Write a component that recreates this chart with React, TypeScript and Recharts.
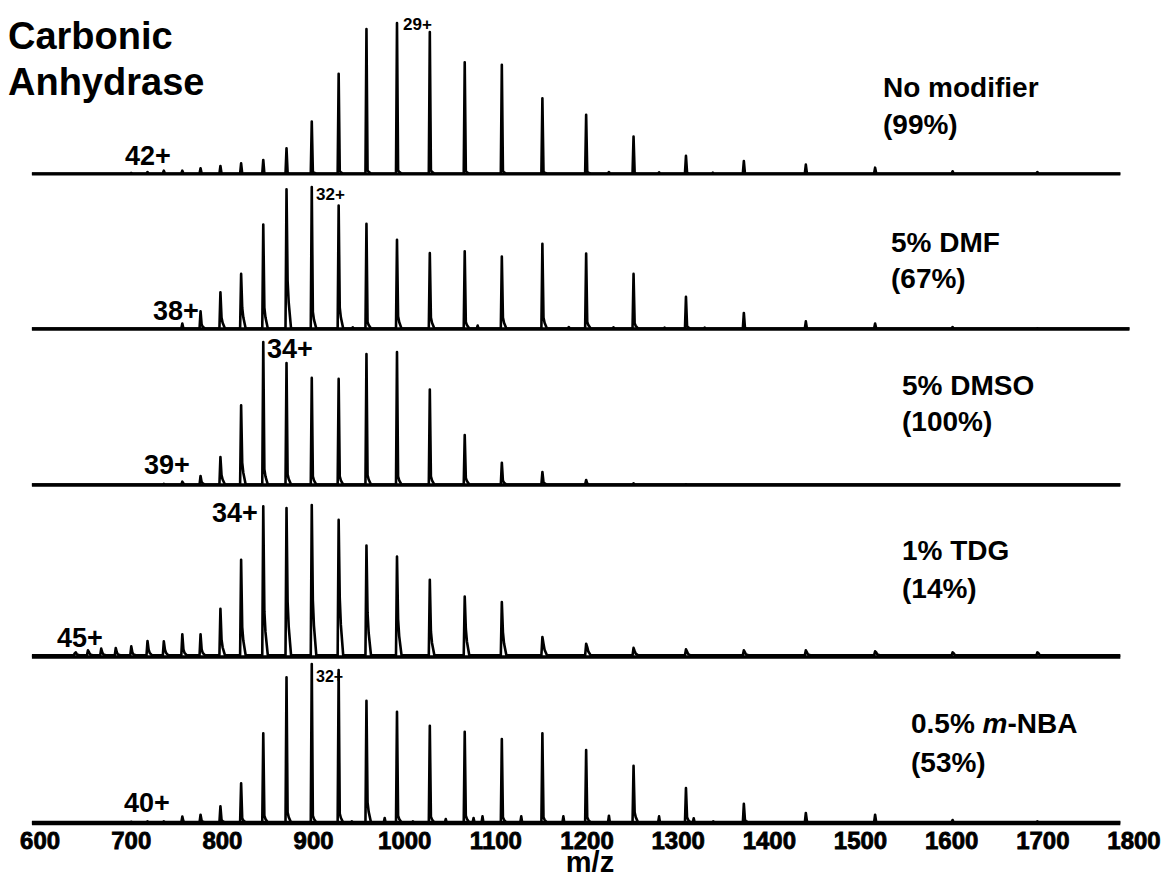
import { LineChart, Line, XAxis, YAxis, ReferenceLine } from "recharts"

// charge states and the m/z where each one sits
const charges = [45, 44, 43, 42, 41, 40, 39, 38, 37, 36, 35, 34, 33, 32, 31, 30, 29, 28, 27, 26, 25, 24, 23, 22, 21, 20, 19, 18, 17]
const peakMz = [638, 652.5, 667, 683, 700, 717.8, 735.7, 756, 776, 797.8, 820.5, 844.8, 870.3, 898, 927.5, 958, 991.5, 1027.5, 1065.8, 1106.5, 1151, 1199, 1251, 1308.5, 1372, 1440, 1516, 1601, 1694]

// relative intensities (%), one per charge state
const noModifier = [0, 0, 0, 0, 0.7, 1.3, 2.2, 2.2, 3.8, 5.3, 7.1, 9.3, 17, 34.7, 66.4, 96, 100, 94, 74, 72.3, 50.2, 39.2, 24.8, 12, 8.6, 6.2, 4.2, 1.8, 1.3]
const noModifierShoulder = [0, 0, 0, 0, 0, 0, 0, 0, 0, 0, 0, 0, 1, 1.5, 2, 2.5, 2.5, 2.5, 2, 2, 1.5, 1.5, 1, 1, 0, 0, 0, 0, 0]
const noModifierMinor: [number, number][] = [[1224, 1.3], [1279, 1.1], [1338, 0.9]]

const dmf = [0, 0, 0, 0, 0, 0, 0, 3.8, 12.5, 25.9, 38.8, 73.6, 98.4, 100, 87, 74.1, 62.8, 53.4, 54.8, 51, 60, 53.2, 38.8, 22.6, 11.3, 5.4, 3.8, 1.4, 0.5]
const dmfShoulder = [0, 0, 0, 0, 0, 0, 0, 0, 3, 8, 15, 15, 34, 12, 15, 5, 9, 8, 5, 8, 8, 5, 4, 2, 1, 0, 0, 0, 0]
const dmfMinor: [number, number][] = [[943, 1.2], [1080, 2.4], [1180, 1.4], [1229, 1.2], [1285, 1], [1329, 1]]

const dmso = [0, 0, 0, 0, 0, 0, 0.8, 2.3, 6.3, 19.5, 55.8, 100, 85.3, 74.9, 74.2, 91.6, 93, 66.7, 34.9, 15.6, 9.1, 3.5, 1.2, 0.5, 0, 0, 0, 0, 0]
const dmsoShoulder = [0, 0, 0, 0, 0, 0, 0, 1, 2, 7, 15.6, 11, 7.5, 6, 6, 7, 6, 6, 5, 3, 2, 1, 0, 0, 0, 0, 0, 0, 0]
const dmsoMinor: [number, number][] = []

const tdg = [2.5, 4.4, 5.5, 5.9, 7, 10.5, 10.3, 14.9, 14.9, 31.7, 63.9, 99.1, 98, 100, 90.2, 73.3, 66.1, 50.8, 39.8, 36.1, 13.1, 8.7, 6, 5, 4.4, 4.4, 3.7, 3, 3]
const tdgShoulder = [3, 3, 3, 3, 3, 5, 5, 5, 5, 11.6, 19.7, 30, 36.5, 37.2, 38.7, 29, 25, 16.8, 18.6, 16.4, 8.8, 6.5, 4, 3.5, 3, 3, 3, 2.5, 2.5]
const tdgMinor: [number, number][] = []

const mNba = [0, 0, 0, 0, 0.8, 1, 1, 4, 5.2, 10.5, 25, 56.4, 91.6, 100, 96.2, 76.9, 70, 61.2, 57.4, 52.8, 56.4, 45.9, 36, 22, 12, 6.3, 5.2, 1.9, 1]
const mNbaShoulder = [0, 0, 0, 0, 0, 0, 0, 1, 1.5, 2, 3, 4.6, 6.7, 4.6, 6, 13, 4.6, 4, 4.6, 3.6, 3.6, 3.6, 6.7, 3.6, 2, 1, 0, 0, 0]
const mNbaMinor: [number, number][] = [[942, 1], [978, 3.1], [1009, 1], [1045, 2.5], [1075.5, 3.1], [1085.3, 4.2], [1127.8, 4.2], [1174, 4.2], [1224, 4.6], [1279, 4.2], [1317, 3], [1338.5, 1]]

const mzTicks = [600, 700, 800, 900, 1000, 1100, 1200, 1300, 1400, 1500, 1600, 1700, 1800]

const FONT = "'Liberation Sans', Arial, Helvetica, sans-serif"

type Pt = { mz: number; v: number }

function buildSpectrum(heights: number[], shoulders: number[], minor: [number, number][], floor: number, end: number): Pt[] {
  const pts: Pt[] = [{ mz: 591, v: floor }]
  peakMz.forEach((mz, i) => {
    const h = heights[i]
    if (!h) return
    const s = shoulders[i] || 0
    pts.push({ mz: mz - 1.1, v: floor }, { mz, v: h })
    if (s > floor) {
      pts.push({ mz: mz + 1.2, v: s }, { mz: mz + 2.4, v: Math.max(floor, s * 0.55) })
    }
    pts.push({ mz: mz + (s > floor ? 5 : 1.2), v: floor })
  })
  minor.forEach(([mz, h]) => {
    pts.push({ mz: mz - 1, v: floor }, { mz, v: h }, { mz: mz + 1, v: floor })
  })
  pts.push({ mz: end, v: floor })
  return pts.sort((a, b) => a.mz - b.mz)
}

const panels = [
  { key: "none", data: buildSpectrum(noModifier, noModifierShoulder, noModifierMinor, 0.3, 1785), baseline: 174, maxPx: 151, end: 1785, lineW: 3 },
  { key: "dmf", data: buildSpectrum(dmf, dmfShoulder, dmfMinor, 0.3, 1795), baseline: 329, maxPx: 142, end: 1795, lineW: 3.5 },
  { key: "dmso", data: buildSpectrum(dmso, dmsoShoulder, dmsoMinor, 0.3, 1785), baseline: 485, maxPx: 143, end: 1785, lineW: 3.5 },
  { key: "tdg", data: buildSpectrum(tdg, tdgShoulder, tdgMinor, 1.1, 1785), baseline: 657, maxPx: 152, end: 1785, lineW: 3.5 },
  { key: "mnba", data: buildSpectrum(mNba, mNbaShoulder, mNbaMinor, 0.3, 1785), baseline: 822.5, maxPx: 159, end: 1785, lineW: 4.5 },
]

const PAD = 10

const renderTick = (props: any) => {
  const { x, y, payload } = props
  return (
    <text
      key={payload.value}
      x={x}
      y={y + 26}
      textAnchor="middle"
      fontSize={24}
      fontWeight="bold"
      fontFamily={FONT}
      fill="#000"
      stroke="#000"
      strokeWidth={0.8}
    >
      {payload.value}
    </text>
  )
}

export default function App() {
  return (
    <div style={{ position: "absolute", left: 0, top: 0, width: 1164, height: 873, background: "#fff", fontFamily: FONT }}>
      {panels.map((p, idx) => {
        const last = idx === panels.length - 1
        const bottom = last ? 50 : 6
        return (
          <div key={p.key} style={{ position: "absolute", left: 0, top: p.baseline - p.maxPx - PAD }}>
            <LineChart
              width={1164}
              height={PAD + p.maxPx + bottom}
              data={p.data}
              margin={{ top: PAD, right: 30, left: 31, bottom: last ? 0 : bottom }}
            >
              <XAxis
                type="number"
                dataKey="mz"
                domain={[590, 1800]}
                ticks={mzTicks}
                hide={!last}
                height={50}
                axisLine={false}
                tickLine={false}
                tickSize={0}
                tickMargin={0}
                tick={renderTick}
                interval={0}
              />
              <YAxis type="number" domain={[0, 100]} hide />
              <ReferenceLine
                segment={[{ x: 591, y: 0 }, { x: p.end, y: 0 }]}
                stroke="#000"
                strokeWidth={p.lineW}
                ifOverflow="visible"
              />
              <Line
                type="linear"
                dataKey="v"
                stroke="#000"
                strokeWidth={2.6}
                strokeLinejoin="round"
                dot={false}
                isAnimationActive={false}
              />
            </LineChart>
          </div>
        )
      })}
      <svg width={1164} height={873} style={{ position: "absolute", left: 0, top: 0, pointerEvents: "none" }} fontFamily={FONT} fontWeight="bold" fill="#000">
        <text x={8} y={49} fontSize={38}>Carbonic</text>
        <text x={8} y={95} fontSize={38}>Anhydrase</text>

        <text x={125} y={165} fontSize={27}>42+</text>
        <text x={403} y={30} fontSize={17}>29+</text>
        <text x={883} y={97} fontSize={28}>No modifier</text>
        <text x={883} y={134} fontSize={28}>(99%)</text>

        <text x={153} y={320} fontSize={27}>38+</text>
        <text x={316} y={200} fontSize={17}>32+</text>
        <text x={891} y={252} fontSize={28}>5% DMF</text>
        <text x={891} y={288} fontSize={28}>(67%)</text>

        <text x={267} y={358} fontSize={27}>34+</text>
        <text x={144} y={474} fontSize={27}>39+</text>
        <text x={902} y={395} fontSize={28}>5% DMSO</text>
        <text x={902} y={431} fontSize={28}>(100%)</text>

        <text x={212} y={522} fontSize={27}>34+</text>
        <text x={57} y={647} fontSize={27}>45+</text>
        <text x={902} y={560} fontSize={28}>1% TDG</text>
        <text x={902} y={598} fontSize={28}>(14%)</text>

        <text x={124} y={812} fontSize={27}>40+</text>
        <text x={316} y={682} fontSize={16}>32+</text>
        <text x={911} y={733} fontSize={28}>
          0.5% <tspan fontStyle="italic">m</tspan>-NBA
        </text>
        <text x={911} y={772} fontSize={28}>(53%)</text>

        <text x={590} y={872} fontSize={29} textAnchor="middle">m/z</text>
      </svg>
    </div>
  )
}
